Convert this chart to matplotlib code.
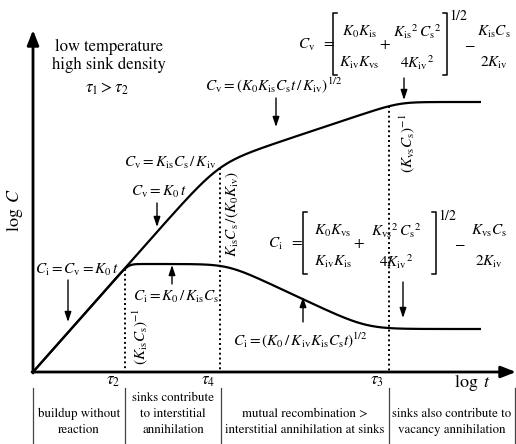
import numpy as np
import matplotlib
matplotlib.use('Agg')
import matplotlib.pyplot as plt

plt.rcParams['font.family'] = 'STIXGeneral'
plt.rcParams['mathtext.fontset'] = 'stix'

# Canvas is laid out in pixel units (y grows downwards)
W, H = 516, 444
x0, y0 = 33, 372            # origin of the log t / log C axes
x_end = 481                 # curves stop here

# characteristic times along log t
tau_labels = [r'$\tau_2$', r'$\tau_4$', r'$\tau_3$']
tau_x = [125, 220, 389]

# asymptotes of the schematic curves
rise_slope = 1.13                       # C = K0 t build-up
cv_mid_x, cv_mid_y, cv_mid_slope = 300, 135, 0.333   # t^1/2 regime
cv_sat = 102                            # vacancy steady state
ci_sat1 = 264                           # C_i = K0/(K_is C_s)
ci_mid_x, ci_mid_y, ci_mid_slope = 228, 264, 0.47    # t^-1/2 regime
ci_sat2 = 329                           # interstitial steady state

# regime boxes under the axis
box_edges = [33, 125, 221, 389, 515]
box_text = [
    ['buildup without', 'reaction'],
    ['sinks contribute', 'to interstitial', 'annihilation'],
    ['mutual recombination >', 'interstitial annihilation at sinks'],
    ['sinks also contribute to', 'vacancy annihilation'],
]
box_rows = [398, 414, 430]


def smax(a, b, k):
    return k * np.logaddexp(a / k, b / k)


def smin(a, b, k):
    return -smax(-a, -b, k)


t = np.linspace(x0, x_end, 900)
rise = y0 - rise_slope * (t - x0)
cv_line = cv_mid_y - cv_mid_slope * (t - cv_mid_x)
cv = smax(smax(rise, cv_line, 10), np.full_like(t, cv_sat), 3)

ci_line = ci_mid_y + ci_mid_slope * (t - ci_mid_x)
ci = smax(smax(rise, np.full_like(t, ci_sat1), 3), ci_line, 5)
ci = np.where(t < tau_x[1], ci, smin(ci, np.full_like(t, ci_sat2), 6))

fig = plt.figure(figsize=(W / 100, H / 100), dpi=100)
ax = fig.add_axes([0, 0, 1, 1])
ax.set_xlim(0, W)
ax.set_ylim(H, 0)
ax.axis('off')

# axes with arrow heads
arr = dict(arrowstyle='-|>,head_length=0.9,head_width=0.35', color='black',
           lw=2, shrinkA=0, shrinkB=0)
ax.annotate('', xy=(x0, 30), xytext=(x0, y0 + 1), arrowprops=arr)
ax.annotate('', xy=(516, y0), xytext=(x0 - 1, y0), arrowprops=arr)

ax.plot(t, cv, color='black', lw=1.6, solid_capstyle='butt')
ax.plot(t, ci, color='black', lw=1.6, solid_capstyle='butt')

# dotted markers from the curves down to the time axis
tops = [np.interp(tau_x[0], t, ci), np.interp(tau_x[1], t, cv),
        np.interp(tau_x[2], t, cv)]
for xv, yt, lab in zip(tau_x, tops, tau_labels):
    ax.plot([xv, xv], [yt, y0], color='black', lw=1.4, ls=(0, (1, 1.5)))
    ax.text(xv - 12, 381, lab, ha='center', va='center', fontsize=12)

ax.text(15, 210, r'$\log\ C$', rotation=90, ha='center', va='center', fontsize=13)
ax.text(472, 383, r'$\log\ t$', ha='center', va='center', fontsize=13)

ax.text(109, 47, 'low temperature', ha='center', va='center', fontsize=12)
ax.text(109, 65, 'high sink density', ha='center', va='center', fontsize=12)
ax.text(107, 89, r'$\tau_1 > \tau_2$', ha='center', va='center', fontsize=12)

fs = 11
ax.text(170, 163, r'$C_\mathrm{v} = K_\mathrm{is}C_\mathrm{s}\,/\,K_\mathrm{iv}$',
        ha='center', va='center', fontsize=fs)
ax.text(159, 192, r'$C_\mathrm{v} = K_0\,t$', ha='center', va='center', fontsize=fs)
ax.text(35, 270, r'$C_\mathrm{i} = C_\mathrm{v} = K_0\,t$', ha='left', va='center',
        fontsize=fs)
ax.text(176, 297, r'$C_\mathrm{i} = K_0\,/\,K_\mathrm{is}C_\mathrm{s}$',
        ha='center', va='center', fontsize=fs)
ax.text(274, 85, r'$C_\mathrm{v} = (K_0K_\mathrm{is}C_\mathrm{s}t\,/\,K_\mathrm{iv})^{1/2}$',
        ha='center', va='center', fontsize=fs)
ax.text(300, 340, r'$C_\mathrm{i} = (K_0\,/\,K_\mathrm{iv}K_\mathrm{is}C_\mathrm{s}t)^{1/2}$',
        ha='center', va='center', fontsize=fs)

ax.text(140, 337, r'$(K_\mathrm{is}C_\mathrm{s})^{-1}$', rotation=90,
        ha='center', va='center', fontsize=fs)
ax.text(232, 214, r'$K_\mathrm{is}C_\mathrm{s}\,/(K_0K_\mathrm{iv})$', rotation=90,
        ha='center', va='center', fontsize=fs)
ax.text(407, 143, r'$(K_\mathrm{vs}C_\mathrm{s})^{-1}$', rotation=90,
        ha='center', va='center', fontsize=fs)


def steady_state(yc, lhs, fracs, xs, fsz=11):
    """Bracketed steady-state expression: lhs = [f1 + f2]^1/2 - f3."""
    x_lhs, x_lb, c1, x_plus, c2, x_rb, x_half, x_minus, c3 = xs
    yn, yd = yc - 13, yc + 18
    kw = dict(va='center', fontsize=fsz)
    ax.text(x_lhs, yc, lhs, ha='left', **kw)
    for c, (num, den) in zip([c1, c2, c3], fracs):
        ax.text(c, yn, num, ha='center', **kw)
        ax.text(c, yd, den, ha='center', **kw)
    ax.text(x_plus, yc - 1, '+', ha='center', **kw)
    ax.text(x_minus, yc - 1, r'$-$', ha='center', **kw)
    ax.text(x_half, yc - 29, r'$1/2$', ha='left', va='center', fontsize=fsz - 1)
    top, bot = yc - 32, yc + 30
    ax.plot([x_lb + 4, x_lb, x_lb, x_lb + 4], [top, top, bot, bot],
            color='black', lw=1.1)
    ax.plot([x_rb - 4, x_rb, x_rb, x_rb - 4], [top, top, bot, bot],
            color='black', lw=1.1)


steady_state(45, r'$C_\mathrm{v}\ \ =$',
             [(r'$K_0K_\mathrm{is}$', r'$K_\mathrm{iv}K_\mathrm{vs}$'),
              (r'${K_\mathrm{is}}^{2}\,{C_\mathrm{s}}^{2}$', r'$4{K_\mathrm{iv}}^{2}$'),
              (r'$K_\mathrm{is}C_\mathrm{s}$', r'$2K_\mathrm{iv}$')],
             [298, 333, 359, 385, 417, 447, 449, 470, 494])
steady_state(244, r'$C_\mathrm{i}\ \ =$',
             [(r'$K_0K_\mathrm{vs}$', r'$K_\mathrm{iv}K_\mathrm{is}$'),
              (r'${K_\mathrm{vs}}^{2}\,{C_\mathrm{s}}^{2}$', r'$4{K_\mathrm{iv}}^{2}$'),
              (r'$K_\mathrm{vs}C_\mathrm{s}$', r'$2K_\mathrm{iv}$')],
             [268, 303, 333, 358, 396, 436, 438, 460, 489])

small = dict(arrowstyle='-|>,head_length=0.6,head_width=0.2', color='black',
             lw=1, shrinkA=0, shrinkB=0)
for tail, tip in [((157, 203), (157, 227)), ((68, 280), (68, 322)),
                  ((172, 284), (172, 265)), ((276, 98), (276, 127)),
                  ((303, 322), (303, 297)), ((404, 78), (404, 100)),
                  ((403, 282), (403, 318))]:
    ax.annotate('', xy=tip, xytext=tail, arrowprops=small)

# regime boxes
for xe in box_edges:
    ax.plot([xe, xe], [388, H], color='#444444', lw=0.9)
for xa, xb, lines in zip(box_edges[:-1], box_edges[1:], box_text):
    for row, line in zip(box_rows[-len(lines):], lines):
        ax.text((xa + xb) / 2, row, line, ha='center', va='center', fontsize=9.3)

fig.savefig('out.png', dpi=100)
